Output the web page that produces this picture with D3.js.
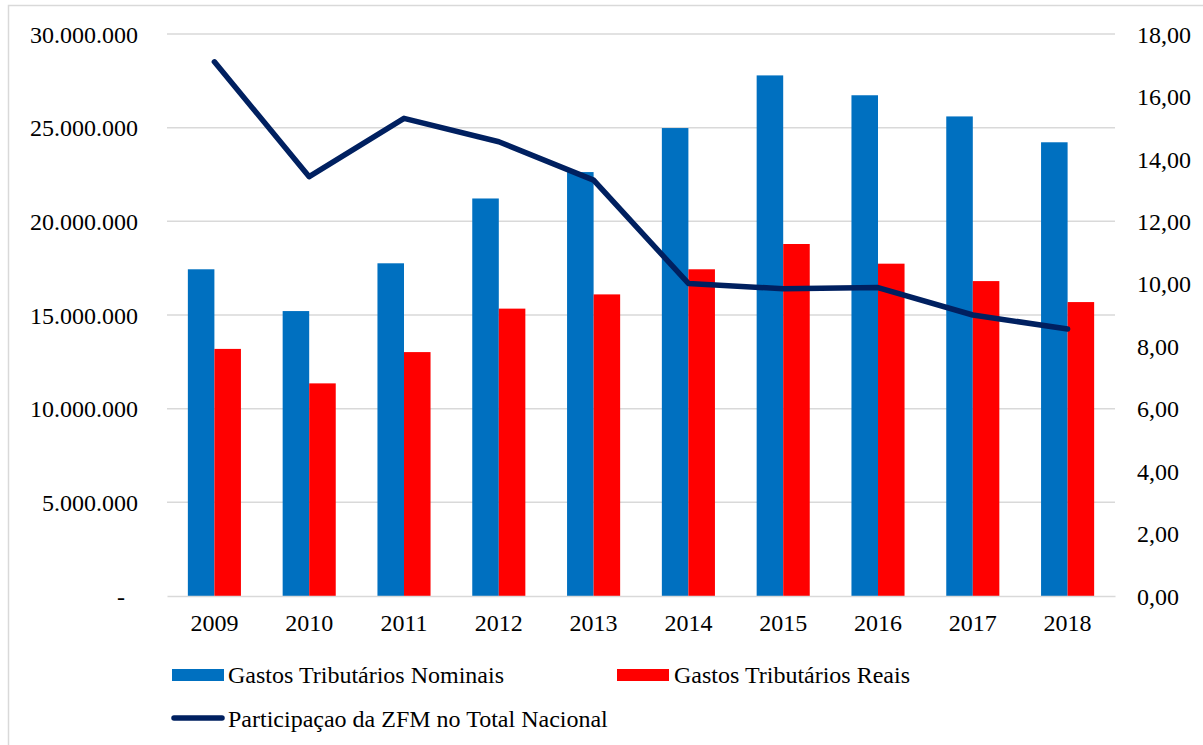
<!DOCTYPE html>
<html><head><meta charset="utf-8">
<script src="https://cdn.jsdelivr.net/npm/d3@7"></script>
<style>
body{margin:0;background:#fff;}
svg{display:block;}
</style></head>
<body><svg id="c" width="1203" height="745"></svg>
<script>
const years = ["2009","2010","2011","2012","2013","2014","2015","2016","2017","2018"];
const nominais = [17440000,15210000,17760000,21220000,22630000,24980000,27790000,26730000,25600000,24220000];
const reais = [13190000,11350000,13020000,15340000,16100000,17440000,18790000,17740000,16810000,15690000];
const participacao = [17.11,13.43,15.30,14.55,13.32,10.01,9.84,9.88,9.00,8.55];
const leftTicks = [0,5000000,10000000,15000000,20000000,25000000,30000000];
const rightTicks = [0,2,4,6,8,10,12,14,16,18];
const seriesNames = ["Gastos Tributários Nominais","Gastos Tributários Reais","Participaçao da ZFM no Total Nacional"];

const FF = '"Times New Roman", "Liberation Serif", Tinos, serif';
const svg = d3.select("#c");
const plot = {l:167,r:1115,t:34,b:596};
const fs = "24px";

svg.append("rect").attr("x",8.5).attr("y",5.5).attr("width",1210).attr("height",760)
  .attr("fill","#fff").attr("stroke","#d9d9d9").attr("stroke-width",1.5);

const x = d3.scaleBand().domain(years).range([plot.l,plot.r]).paddingInner(0.44).paddingOuter(0.22);
const xs = d3.scaleBand().domain(["n","r"]).range([0,x.bandwidth()]);
const yL = d3.scaleLinear().domain([0,30000000]).range([plot.b,plot.t]);
const yR = d3.scaleLinear().domain([0,18]).range([plot.b,plot.t]);

// gridlines
svg.append("g").selectAll("line").data(leftTicks.filter(d=>d>0)).join("line")
  .attr("x1",plot.l).attr("x2",plot.r).attr("y1",d=>yL(d)).attr("y2",d=>yL(d))
  .attr("stroke","#d9d9d9").attr("stroke-width",1.5);

// left axis
const fmtL = d => d===0 ? "-" : d3.format(",")(d).replace(/,/g,".");
const gL = svg.append("g").attr("transform",`translate(${plot.l},0)`)
  .call(d3.axisLeft(yL).tickValues(leftTicks).tickFormat(fmtL).tickSize(0).tickPadding(29));
gL.attr("font-family",FF).attr("font-size",fs);
gL.select(".domain").remove();
gL.selectAll("text").attr("fill","#000").attr("dy","0.34em");
gL.selectAll(".tick").filter(d=>d===0).select("text").attr("dx","-13");

// right axis
const fmtR = d => d3.format(".2f")(d).replace(".",",");
const gR = svg.append("g").attr("transform",`translate(${plot.r},0)`)
  .call(d3.axisRight(yR).tickValues(rightTicks).tickFormat(fmtR).tickSize(0).tickPadding(22));
gR.attr("font-family",FF).attr("font-size",fs);
gR.select(".domain").remove();
gR.selectAll("text").attr("fill","#000").attr("dy","0.34em");

// bars
const g = svg.append("g");
g.selectAll("rect.n").data(years).join("rect").attr("class","n")
  .attr("x",d=>x(d)+xs("n")).attr("width",xs.bandwidth())
  .attr("y",(d,i)=>yL(nominais[i])).attr("height",(d,i)=>yL(0)-yL(nominais[i]))
  .attr("fill","#0070c0");
g.selectAll("rect.r").data(years).join("rect").attr("class","r")
  .attr("x",d=>x(d)+xs("r")).attr("width",xs.bandwidth())
  .attr("y",(d,i)=>yL(reais[i])).attr("height",(d,i)=>yL(0)-yL(reais[i]))
  .attr("fill","#ff0000");

// x axis
const gX = svg.append("g").attr("transform",`translate(0,${plot.b})`)
  .call(d3.axisBottom(x).tickSize(0).tickPadding(18));
gX.attr("font-family",FF).attr("font-size",fs);
gX.select(".domain").attr("stroke","#d9d9d9").attr("stroke-width",1.5);
gX.selectAll("text").attr("fill","#000");

// line
const line = d3.line().x((d,i)=>x(years[i])+x.bandwidth()/2).y(d=>yR(d));
svg.append("path").datum(participacao).attr("d",line)
  .attr("fill","none").attr("stroke","#002060").attr("stroke-width",5.5)
  .attr("stroke-linejoin","round").attr("stroke-linecap","round");

// legend
const lg = svg.append("g").attr("font-family",FF).attr("font-size",fs);
lg.append("rect").attr("x",172).attr("y",669).attr("width",52).attr("height",12).attr("fill","#0070c0");
lg.append("text").attr("x",228).attr("y",683).text(seriesNames[0]);
lg.append("rect").attr("x",617).attr("y",669).attr("width",52).attr("height",12).attr("fill","#ff0000");
lg.append("text").attr("x",674).attr("y",683).text(seriesNames[1]);
lg.append("line").attr("x1",174).attr("x2",222).attr("y1",718).attr("y2",718)
  .attr("stroke","#002060").attr("stroke-width",5.5).attr("stroke-linecap","round");
lg.append("text").attr("x",228).attr("y",727).text(seriesNames[2]);
</script></body></html>
